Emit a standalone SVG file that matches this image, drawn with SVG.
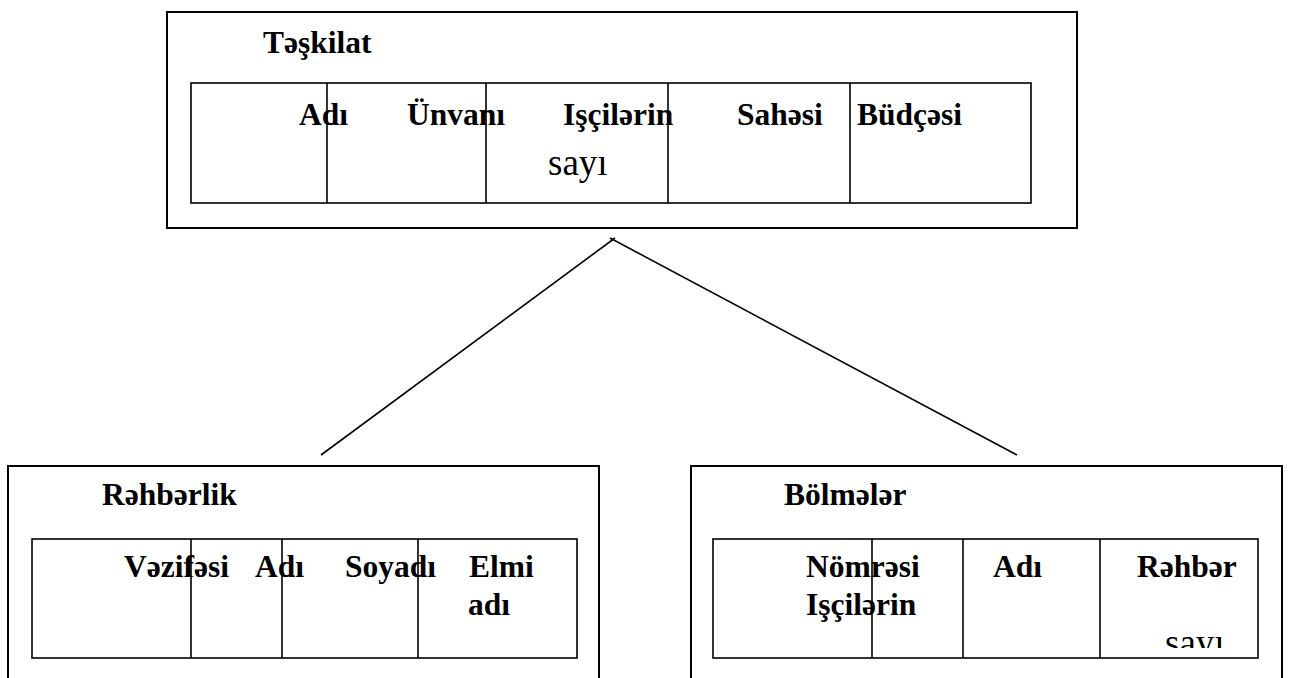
<svg xmlns="http://www.w3.org/2000/svg" width="1289" height="678" viewBox="0 0 1289 678">
  <style>
    .frame { fill: #fff; stroke: #000; stroke-width: 2; }
    .table { fill: #fff; stroke: #000; stroke-width: 1.6; }
    .div { stroke: #000; stroke-width: 1.6; }
    .edge { stroke: #000; stroke-width: 1.6; fill: none; }
    .b { font-family: "Liberation Serif", "Times New Roman", serif; font-weight: bold; font-size: 31.5px; fill: #000; }
    .r { font-family: "Liberation Serif", "Times New Roman", serif; font-weight: normal; font-size: 37px; fill: #000; }
  </style>
  <defs>
    <clipPath id="cellClip">
      <rect x="1100" y="539" width="158" height="109"/>
    </clipPath>
  </defs>
  <rect width="1289" height="678" fill="#fff"/>

  <!-- connectors from Təşkilat to the two child entities -->
  <g id="connectors">
    <line class="edge" x1="321" y1="455" x2="615" y2="238"/>
    <line class="edge" x1="610" y1="238" x2="1017" y2="455"/>
  </g>

  <!-- Təşkilat entity -->
  <g id="node-teskilat">
    <rect class="frame" x="167" y="12" width="910" height="216"/>
    <text class="b" x="263" y="53">Təşkilat</text>
    <rect class="table" x="191" y="83" width="840" height="120"/>
    <line class="div" x1="327" y1="83" x2="327" y2="203"/>
    <line class="div" x1="486" y1="83" x2="486" y2="203"/>
    <line class="div" x1="668" y1="83" x2="668" y2="203"/>
    <line class="div" x1="850" y1="83" x2="850" y2="203"/>
    <text class="b" x="299" y="125">Adı</text>
    <text class="b" x="407" y="125">Ünvanı</text>
    <text class="b" x="563" y="125">Işçilərin</text>
    <text class="r" x="548" y="175">sayı</text>
    <text class="b" x="737" y="125">Sahəsi</text>
    <text class="b" x="857" y="125">Büdçəsi</text>
  </g>

  <!-- Rəhbərlik entity -->
  <g id="node-rehberlik">
    <rect class="frame" x="8" y="466" width="591" height="240"/>
    <text class="b" x="102" y="505">Rəhbərlik</text>
    <rect class="table" x="32" y="539" width="545" height="119"/>
    <line class="div" x1="191" y1="539" x2="191" y2="658"/>
    <line class="div" x1="282" y1="539" x2="282" y2="658"/>
    <line class="div" x1="418" y1="539" x2="418" y2="658"/>
    <text class="b" x="124" y="577">Vəzifəsi</text>
    <text class="b" x="255" y="577">Adı</text>
    <text class="b" x="345" y="577">Soyadı</text>
    <text class="b" x="469" y="577">Elmi</text>
    <text class="b" x="468" y="615">adı</text>
  </g>

  <!-- Bölmələr entity -->
  <g id="node-bolmeler">
    <rect class="frame" x="691" y="466" width="591" height="240"/>
    <text class="b" x="784" y="505">Bölmələr</text>
    <rect class="table" x="713" y="539" width="545" height="119"/>
    <line class="div" x1="872" y1="539" x2="872" y2="658"/>
    <line class="div" x1="963" y1="539" x2="963" y2="658"/>
    <line class="div" x1="1100" y1="539" x2="1100" y2="658"/>
    <text class="b" x="806" y="577">Nömrəsi</text>
    <text class="b" x="806" y="615">Işçilərin</text>
    <text class="b" x="993" y="577">Adı</text>
    <text class="b" x="1137" y="577">Rəhbər</text>
    <text class="r" x="1165" y="655" font-size="33" clip-path="url(#cellClip)">sayı</text>
  </g>
</svg>
